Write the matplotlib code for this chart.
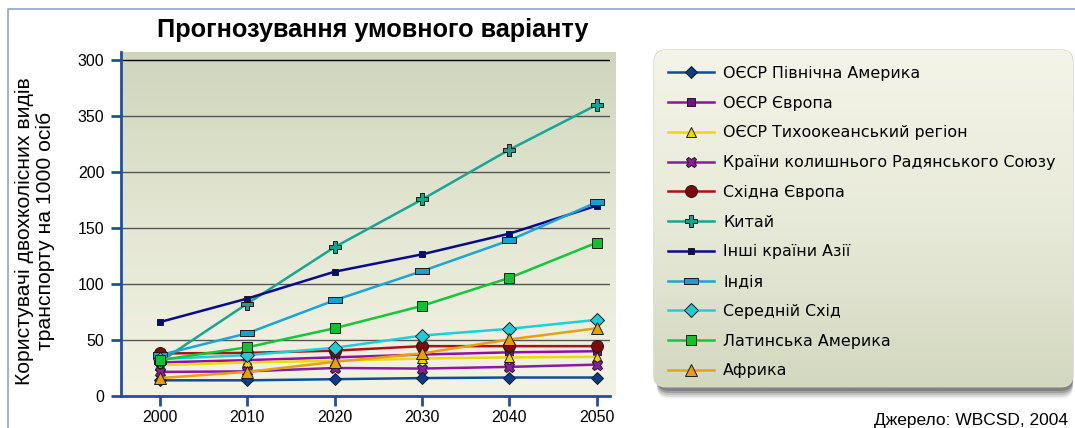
import numpy as np
import matplotlib.pyplot as plt
from matplotlib.patches import FancyBboxPatch
from matplotlib.colors import LinearSegmentedColormap

years = [2000, 2010, 2020, 2030, 2040, 2050]

oecd_na = [14, 14, 15, 16, 16.5, 16.5]
oecd_eu = [30, 32, 34.5, 37, 39, 40]
oecd_pac = [27.5, 30, 31.5, 33.5, 34.5, 35]
fsu = [21.5, 22, 25, 24.5, 26, 28]
east_eu = [38, 38.5, 40.5, 44.5, 44.5, 44.5]
china = [30.5, 82.5, 133, 175.5, 220, 260]
other_asia = [66, 87, 111, 126.5, 145, 170]
india = [36.5, 56, 85.5, 111.5, 139, 173]
mideast = [33, 36.5, 43, 54, 60, 68]
latam = [32, 43.5, 60.5, 80.5, 105.5, 137]
africa = [16, 21.5, 30.5, 38, 50.5, 60.5]

labels = ['ОЄСР Північна Америка', 'ОЄСР Європа', 'ОЄСР Тихоокеанський регіон',
          'Країни колишнього Радянського Союзу', 'Східна Європа', 'Китай',
          'Інші країни Азії', 'Індія', 'Середній Схід', 'Латинська Америка', 'Африка']

y_ticks = [0, 50, 100, 150, 200, 250, 300]
y_tick_labels = ['0', '50', '100', '150', '200', '350', '300']

series = [oecd_na, oecd_eu, oecd_pac, fsu, east_eu, china, other_asia, india, mideast, latam, africa]

rect_marker = [(-1, -0.5), (1, -0.5), (1, 0.5), (-1, 0.5), (-1, -0.5)]

# стиль: (колір лінії, колір маркера, маркер, розмір)
styles = [
    ('#0E4C9C', '#0B3D8C', 'D', 6.3),
    ('#9010A8', '#7A0A9A', 's', 6),
    ('#E8DC00', '#F0D400', '^', 7.5),
    ('#8A1AA0', '#8E1A9E', 'X', 7.5),
    ('#A81410', '#7E0A0A', 'o', 8.6),
    ('#18A593', '#19A08E', 'P', 8),
    ('#0A0A8A', '#0A0A80', 's', 4.8),
    ('#1AA5D5', '#1A9FCF', rect_marker, 9.4),
    ('#1CCFDC', '#1CCCD6', 'D', 6.8),
    ('#12C83A', '#12C030', 's', 7.4),
    ('#E8A010', '#E8A000', '^', 8),
]

W, H = 1075, 428
fig = plt.figure(figsize=(W / 100, H / 100), dpi=100)

# фон: рамка і легенда в піксельних координатах
bg = fig.add_axes([0, 0, 1, 1], zorder=-5)
bg.set_xlim(0, W)
bg.set_ylim(H, 0)
bg.axis('off')
bg.plot([8, 8, W + 5], [H + 5, 9, 9], color='#8FA3C9', lw=1.2)

lx0, ly0, lx1, ly1 = 654, 50, 1073, 387
for off, a in [(12, 0.06), (10, 0.12), (8, 0.16), (6, 0.22), (4, 0.28)]:
    sh = FancyBboxPatch((lx0 + 3, ly0 + off), lx1 - lx0 - 3, ly1 - ly0,
                        boxstyle='round,pad=0,rounding_size=12',
                        fc='#333333', ec='none', alpha=a, zorder=0)
    bg.add_patch(sh)
box = FancyBboxPatch((lx0, ly0), lx1 - lx0, ly1 - ly0,
                     boxstyle='round,pad=0,rounding_size=12',
                     fc='#E6E8D6', ec='#C8CCB8', lw=0.8, zorder=1)
bg.add_patch(box)
leg_cmap = LinearSegmentedColormap.from_list('lg', ['#F4F4E8', '#E8EAD9', '#D3D8C0'])
grad = np.linspace(0, 1, 256).reshape(-1, 1)
im = bg.imshow(grad, extent=[lx0, lx1, ly1, ly0], cmap=leg_cmap, aspect='auto',
               origin='upper', zorder=2)
im.set_clip_path(box)

# основний графік
ax = fig.add_axes([121 / W, 1 - 396 / H, (610 - 121) / W, (396 - 52) / H])
ytop = (396 - 52) / 1.12
x0, x1 = 1995.55, 2051.5
plot_cmap = LinearSegmentedColormap.from_list('pg', ['#CFD6BC', '#E4E7D3', '#F3F3E5'])
ax.imshow(grad, extent=[x0, x1 + 0.6, 0, ytop], cmap=plot_cmap, aspect='auto',
          origin='upper', zorder=0, clip_on=False)

for v in y_ticks[1:]:
    ax.axhline(v, color='#000000' if v == 300 else '#555555', lw=1.0, zorder=1)

handles = []
for data, lab, (lc, mc, mk, ms) in zip(series, labels, styles):
    ln, = ax.plot(years, data, color=lc, lw=1.8, marker=mk, markersize=ms,
                  markerfacecolor=mc, markeredgecolor='#1a1a1a', markeredgewidth=0.7,
                  zorder=3, label=lab)
    handles.append(ln)

ax.set_xlim(x0, x1)
ax.set_ylim(0, ytop)
ax.set_xticks(years)
ax.set_yticks(y_ticks)
ax.set_yticklabels(y_tick_labels)
ax.tick_params(axis='both', direction='out', length=7, width=2, color='#1F4FA8',
               labelsize=11.5)
ax.tick_params(axis='x', pad=3)
ax.tick_params(axis='y', pad=5)
for t in ax.get_xticklabels() + ax.get_yticklabels():
    t.set_family('Liberation Sans')
for s in ['top', 'right']:
    ax.spines[s].set_visible(False)
for s in ['left', 'bottom']:
    ax.spines[s].set_color('#1F4FA8')
    ax.spines[s].set_linewidth(2)
ax.set_facecolor('none')

ax.set_ylabel('Користувачі двохколісних видів\nтранспорту на 1000 осіб', fontsize=15.2,
              family='Liberation Sans', labelpad=15, linespacing=1.1)
ax.yaxis.set_label_coords(-0.135, 0.48)

fig.text(373 / W, 1 - 30 / H, 'Прогнозування умовного варіанту', fontsize=18.2,
         fontweight='bold', family='Liberation Sans', ha='center', va='center')

fig.text(1068 / W, 1 - 420 / H, 'Джерело: WBCSD, 2004', fontsize=12.5,
         family='Liberation Sans', ha='right', va='center')

fig.legend(handles=handles, labels=labels, loc='upper left',
           bbox_to_anchor=(660 / W, 1 - 58 / H), frameon=False, fontsize=11.4,
           handlelength=2.9, labelspacing=0.93, handletextpad=0.6, borderpad=0)

fig.savefig('out.png', dpi=100)
